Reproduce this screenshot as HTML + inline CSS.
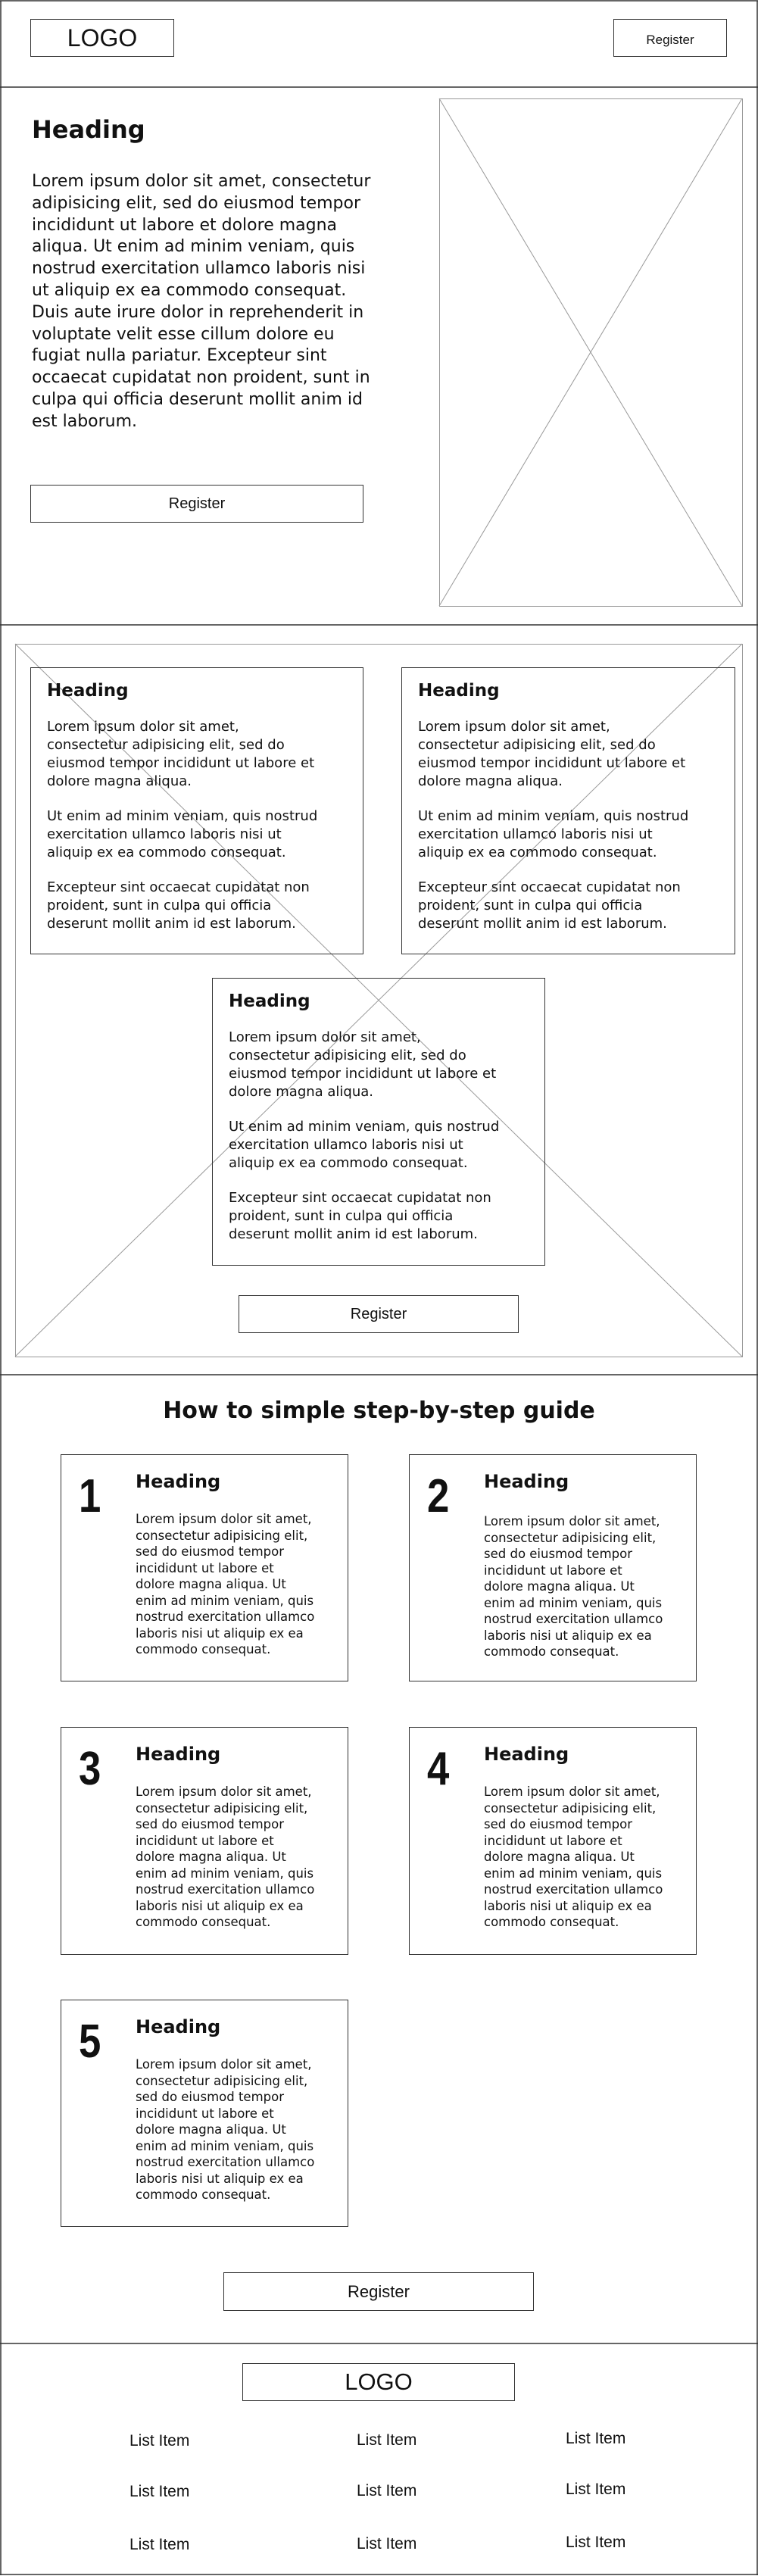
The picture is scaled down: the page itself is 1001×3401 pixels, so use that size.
<!DOCTYPE html>
<html><head><meta charset="utf-8"><style>
*{margin:0;padding:0;box-sizing:border-box}
body{width:1001px;height:3401px;position:relative;background:#fff;overflow:hidden;font-family:"DejaVu Sans","Liberation Sans",sans-serif;color:#111}
.a{position:absolute;white-space:nowrap}
.box{position:absolute;border:1.5px solid #333}
.btn{position:absolute;border:1.5px solid #333;display:flex;align-items:center;justify-content:center;font-family:"Liberation Sans",sans-serif}
.h{font-weight:bold}
.p1{font-size:22px;line-height:28.8px}
.ch{font-size:23px;font-weight:bold}
.cp{font-size:18px;line-height:24px}
.cp p{margin-bottom:22px}
.num{font-family:"Liberation Sans",sans-serif;font-weight:bold;font-size:62px;line-height:1;transform:scaleX(0.85);transform-origin:left top}
.sh{font-size:24px;font-weight:bold}
.sp{font-size:16.5px;line-height:21.5px}
.li{font-family:"Liberation Sans",sans-serif;font-size:21px}
</style></head><body>
<svg class="a" style="left:0;top:0" width="1001" height="3401">
<g stroke="#333" stroke-width="1.5" fill="none">
<line x1="1" y1="1" x2="1" y2="3400"/><line x1="1000" y1="1" x2="1000" y2="3400"/>
<line x1="0" y1="1" x2="1001" y2="1"/>
<line x1="0" y1="115" x2="1001" y2="115"/>
<line x1="0" y1="825" x2="1001" y2="825"/>
<line x1="0" y1="1815" x2="1001" y2="1815"/>
<line x1="0" y1="3094" x2="1001" y2="3094"/>
<line x1="0" y1="3399" x2="1001" y2="3399"/>
</g>
<g stroke="#999" stroke-width="1" fill="none">
<rect x="580.5" y="130.5" width="400" height="670"/>
<line x1="580" y1="130" x2="980" y2="800"/><line x1="980" y1="130" x2="580" y2="800"/>
<rect x="20.5" y="850.5" width="960" height="941"/>
<line x1="20" y1="850" x2="980" y2="1791"/><line x1="980" y1="850" x2="20" y2="1791"/>
</g>
</svg>

<div class="btn" style="left:40px;top:25px;width:190px;height:50px;font-size:32px">LOGO</div>
<div class="btn" style="left:810px;top:25px;width:150px;height:50px;font-size:17px;padding-top:6px">Register</div>

<div class="a h" style="left:42px;top:152px;font-size:32px">Heading</div>
<div class="a p1" style="left:42px;top:226px">Lorem ipsum dolor sit amet, consectetur<br>adipisicing elit, sed do eiusmod tempor<br>incididunt ut labore et dolore magna<br>aliqua. Ut enim ad minim veniam, quis<br>nostrud exercitation ullamco laboris nisi<br>ut aliquip ex ea commodo consequat.<br>Duis aute irure dolor in reprehenderit in<br>voluptate velit esse cillum dolore eu<br>fugiat nulla pariatur. Excepteur sint<br>occaecat cupidatat non proident, sunt in<br>culpa qui officia deserunt mollit anim id<br>est laborum.</div>
<div class="btn" style="left:40px;top:640px;width:440px;height:50px;font-size:20px">Register</div>

<div class="box" style="left:40px;top:881px;width:440px;height:379px"></div>
<div class="box" style="left:530px;top:881px;width:441px;height:379px"></div>
<div class="box" style="left:280px;top:1291px;width:440px;height:380px"></div>
<div class="a" style="left:62px;top:899px"><div class="ch">Heading</div><div class="cp" style="margin-top:23px"><p>Lorem ipsum dolor sit amet,<br>consectetur adipisicing elit, sed do<br>eiusmod tempor incididunt ut labore et<br>dolore magna aliqua.</p><p>Ut enim ad minim veniam, quis nostrud<br>exercitation ullamco laboris nisi ut<br>aliquip ex ea commodo consequat.</p><p>Excepteur sint occaecat cupidatat non<br>proident, sunt in culpa qui officia<br>deserunt mollit anim id est laborum.</p></div></div>
<div class="a" style="left:552px;top:899px"><div class="ch">Heading</div><div class="cp" style="margin-top:23px"><p>Lorem ipsum dolor sit amet,<br>consectetur adipisicing elit, sed do<br>eiusmod tempor incididunt ut labore et<br>dolore magna aliqua.</p><p>Ut enim ad minim veniam, quis nostrud<br>exercitation ullamco laboris nisi ut<br>aliquip ex ea commodo consequat.</p><p>Excepteur sint occaecat cupidatat non<br>proident, sunt in culpa qui officia<br>deserunt mollit anim id est laborum.</p></div></div>
<div class="a" style="left:302px;top:1309px"><div class="ch">Heading</div><div class="cp" style="margin-top:23px"><p>Lorem ipsum dolor sit amet,<br>consectetur adipisicing elit, sed do<br>eiusmod tempor incididunt ut labore et<br>dolore magna aliqua.</p><p>Ut enim ad minim veniam, quis nostrud<br>exercitation ullamco laboris nisi ut<br>aliquip ex ea commodo consequat.</p><p>Excepteur sint occaecat cupidatat non<br>proident, sunt in culpa qui officia<br>deserunt mollit anim id est laborum.</p></div></div>
<div class="btn" style="left:315px;top:1710px;width:370px;height:50px;font-size:20px">Register</div>

<div class="a h" style="left:0;width:1001px;text-align:center;top:1845px;font-size:30px">How to simple step-by-step guide</div>

<div class="box" style="left:80px;top:1920px;width:380px;height:300px"></div>
<div class="box" style="left:540px;top:1920px;width:380px;height:300px"></div>
<div class="box" style="left:80px;top:2280px;width:380px;height:301px"></div>
<div class="box" style="left:540px;top:2280px;width:380px;height:301px"></div>
<div class="box" style="left:80px;top:2640px;width:380px;height:300px"></div>

<div class="a num" style="left:104px;top:1945px">1</div>
<div class="a" style="left:179px;top:1942px"><div class="sh">Heading</div><div class="sp" style="margin-top:25px">Lorem ipsum dolor sit amet,<br>consectetur adipisicing elit,<br>sed do eiusmod tempor<br>incididunt ut labore et<br>dolore magna aliqua. Ut<br>enim ad minim veniam, quis<br>nostrud exercitation ullamco<br>laboris nisi ut aliquip ex ea<br>commodo consequat.</div></div>
<div class="a num" style="left:564px;top:1945px">2</div>
<div class="a" style="left:639px;top:1942px"><div class="sh">Heading</div><div class="sp" style="margin-top:28px">Lorem ipsum dolor sit amet,<br>consectetur adipisicing elit,<br>sed do eiusmod tempor<br>incididunt ut labore et<br>dolore magna aliqua. Ut<br>enim ad minim veniam, quis<br>nostrud exercitation ullamco<br>laboris nisi ut aliquip ex ea<br>commodo consequat.</div></div>
<div class="a num" style="left:104px;top:2305px">3</div>
<div class="a" style="left:179px;top:2302px"><div class="sh">Heading</div><div class="sp" style="margin-top:25px">Lorem ipsum dolor sit amet,<br>consectetur adipisicing elit,<br>sed do eiusmod tempor<br>incididunt ut labore et<br>dolore magna aliqua. Ut<br>enim ad minim veniam, quis<br>nostrud exercitation ullamco<br>laboris nisi ut aliquip ex ea<br>commodo consequat.</div></div>
<div class="a num" style="left:564px;top:2305px">4</div>
<div class="a" style="left:639px;top:2302px"><div class="sh">Heading</div><div class="sp" style="margin-top:25px">Lorem ipsum dolor sit amet,<br>consectetur adipisicing elit,<br>sed do eiusmod tempor<br>incididunt ut labore et<br>dolore magna aliqua. Ut<br>enim ad minim veniam, quis<br>nostrud exercitation ullamco<br>laboris nisi ut aliquip ex ea<br>commodo consequat.</div></div>
<div class="a num" style="left:104px;top:2665px">5</div>
<div class="a" style="left:179px;top:2662px"><div class="sh">Heading</div><div class="sp" style="margin-top:25px">Lorem ipsum dolor sit amet,<br>consectetur adipisicing elit,<br>sed do eiusmod tempor<br>incididunt ut labore et<br>dolore magna aliqua. Ut<br>enim ad minim veniam, quis<br>nostrud exercitation ullamco<br>laboris nisi ut aliquip ex ea<br>commodo consequat.</div></div>

<div class="btn" style="left:295px;top:3000px;width:410px;height:51px;font-size:22px">Register</div>

<div class="btn" style="left:320px;top:3120px;width:360px;height:50px;font-size:31px">LOGO</div>
<div class="a li" style="left:171px;top:3211px">List Item</div>
<div class="a li" style="left:471px;top:3210px">List Item</div>
<div class="a li" style="left:747px;top:3208px">List Item</div>
<div class="a li" style="left:171px;top:3278px">List Item</div>
<div class="a li" style="left:471px;top:3277px">List Item</div>
<div class="a li" style="left:747px;top:3275px">List Item</div>
<div class="a li" style="left:171px;top:3348px">List Item</div>
<div class="a li" style="left:471px;top:3347px">List Item</div>
<div class="a li" style="left:747px;top:3345px">List Item</div>
</body></html>
